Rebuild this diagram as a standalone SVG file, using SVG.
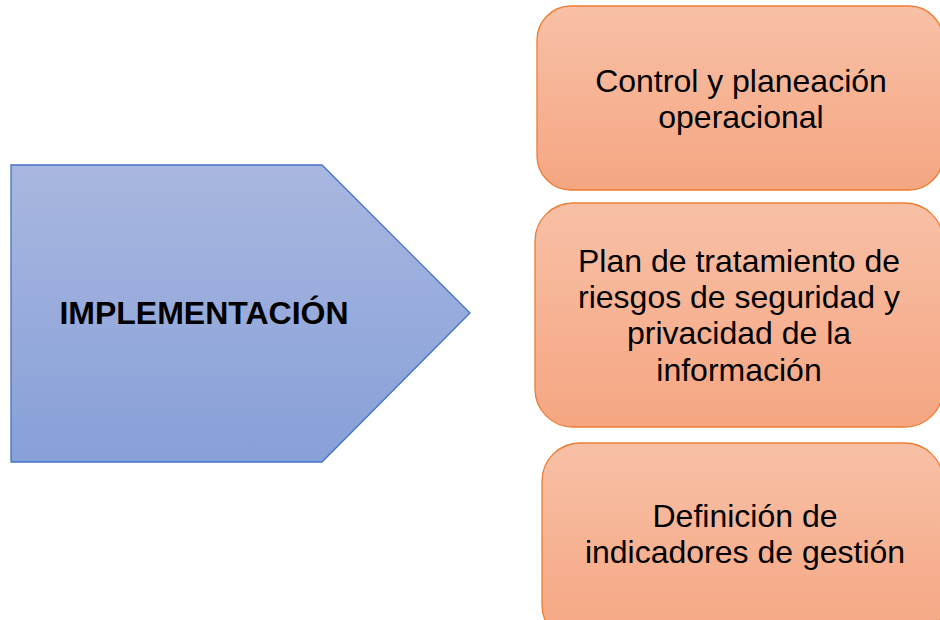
<svg xmlns="http://www.w3.org/2000/svg" width="940" height="620" viewBox="0 0 940 620">
  <defs>
    <linearGradient id="gBlue" x1="0" y1="0" x2="0" y2="1">
      <stop offset="0" stop-color="#A9B7E0"/>
      <stop offset="1" stop-color="#87A0D8"/>
    </linearGradient>
    <linearGradient id="gOrange" x1="0" y1="0" x2="0" y2="1">
      <stop offset="0" stop-color="#F8C0A6"/>
      <stop offset="1" stop-color="#F5A682"/>
    </linearGradient>
  </defs>
  <style>
    .box { fill: url(#gOrange); stroke: #ED7D31; stroke-width: 1.3; }
    .arrow { fill: url(#gBlue); stroke: #4472C4; stroke-width: 1.3; }
    .t { font-family: "Liberation Sans", Arial, sans-serif; font-size: 32px; fill: #000; text-anchor: middle; }
    .b { font-weight: bold; }
  </style>
  <rect width="940" height="620" fill="#FFFFFF"/>
  <g id="connectors"></g>
  <g id="implementacion">
    <polygon class="arrow" points="11,165 322,165 470,313 322,462 11,462"/>
    <text class="t b" x="204" y="324">IMPLEMENTACIÓN</text>
  </g>
  <g id="control">
    <rect class="box" x="537" y="6" width="406" height="184" rx="34"/>
    <text class="t" x="741" y="92">Control y planeación</text>
    <text class="t" x="741" y="128">operacional</text>
  </g>
  <g id="plan">
    <rect class="box" x="535" y="203" width="408" height="224" rx="38"/>
    <text class="t" x="739" y="272">Plan de tratamiento de</text>
    <text class="t" x="739" y="308">riesgos de seguridad y</text>
    <text class="t" x="739" y="344">privacidad de la</text>
    <text class="t" x="739" y="381">información</text>
  </g>
  <g id="definicion">
    <rect class="box" x="542" y="443" width="401" height="200" rx="38"/>
    <text class="t" x="745" y="527">Definición de</text>
    <text class="t" x="745" y="563">indicadores de gestión</text>
  </g>
</svg>
